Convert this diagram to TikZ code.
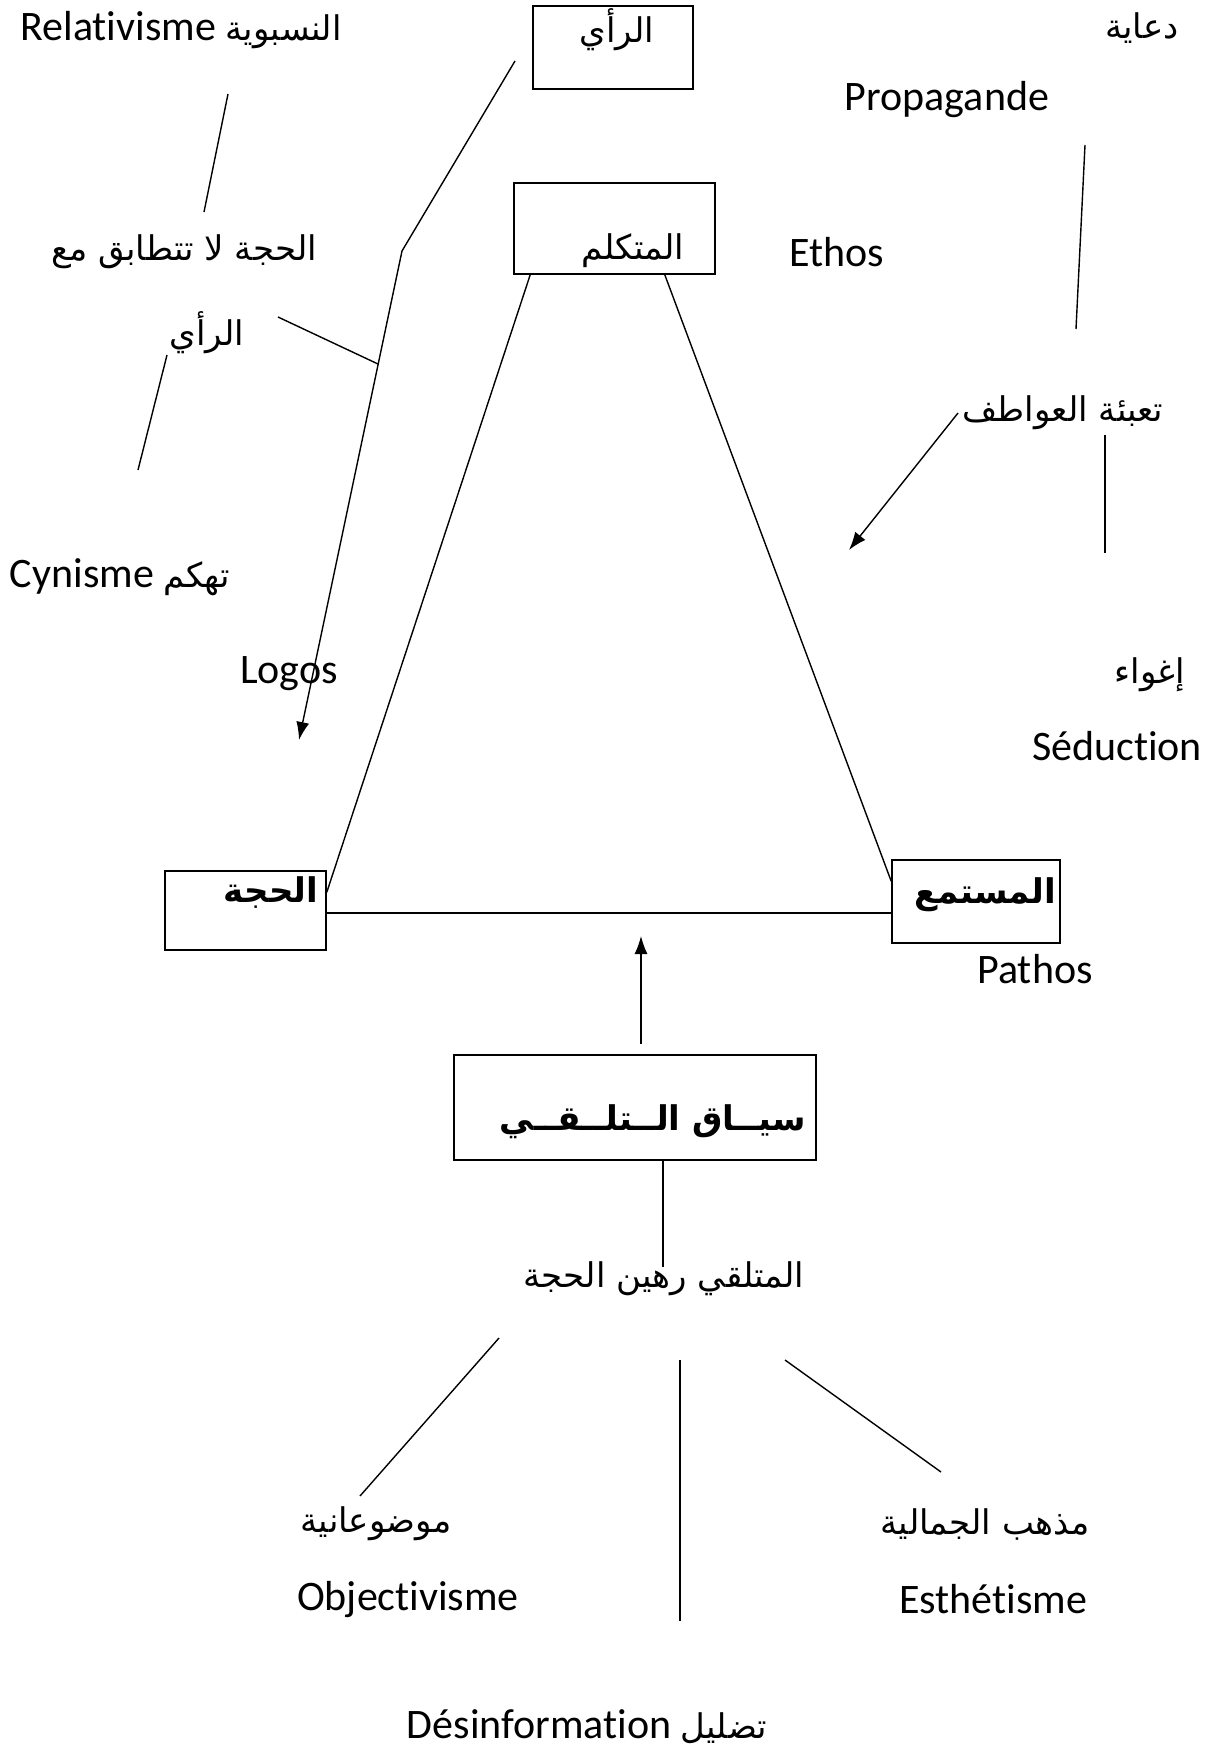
\documentclass[tikz,border=0pt]{standalone}
\usepackage{fontspec}
\setmainfont{Carlito}[Ligatures=NoCommon]
\newfontfamily\arabicfont[Script=Arabic]{DejaVu Sans}
\TeXXeTstate=1
\usetikzlibrary{calc, arrows.meta}
\newcommand{\artxt}[1]{{\arabicfont\fontsize{34}{42}\selectfont\beginR #1\endR}}

\begin{document}
\begin{tikzpicture}[x=1pt, y=-1pt]
\tikzstyle{line} = [draw, line width=1.4pt]
\tikzstyle{arrowline} = [draw, line width=1.4pt, -{Latex[length=18pt,width=13pt]}]
\tikzstyle{box} = [rectangle, draw, line width=1.6pt, inner sep=0pt]
\tikzstyle{latin} = [inner sep=0pt, font=\fontsize{42}{50}\selectfont]
\tikzstyle{arab} = [inner sep=0pt, font=\arabicfont\fontsize{34}{42}\selectfont]
\tikzstyle{arabbold} = [inner sep=0pt, font=\arabicfont\bfseries\fontsize{34}{42}\selectfont]
\useasboundingbox (0,0) rectangle (1217,1751);
% boxes
\node[box, minimum width=160pt, minimum height=83pt] (opinion) at (613,47.5) {};
\node[box, minimum width=201pt, minimum height=91pt] (speaker) at (614.5,228.5) {};
\node[box, minimum width=161pt, minimum height=79pt] (argument) at (245.5,910.5) {};
\node[box, minimum width=168pt, minimum height=83pt] (listener) at (976,901.5) {};
\node[box, minimum width=362pt, minimum height=105pt] (context) at (635,1107.5) {};
\node[arab] (opinion_t) at (617,30) {\beginR الرأي\endR};
\node[arab] (speaker_t) at (633,251) {\beginR المتكلم\endR};
\node[arabbold] (argument_t) at (271,893) {\beginR الحجة\endR};
\node[arabbold] (listener_t) at (985,895) {\beginR المستمع\endR};
\node[arabbold] (context_t) at (653,1122) {\beginR سيــاق الــتلــقــي\endR};
% labels
\node[latin] (relat) at (181,30) {Relativisme \artxt{النسبوية}};
\node[arab] (propa_ar) at (1142,28) {\beginR دعاية\endR};
\node[latin] (propa) at (947,100) {Propagande};
\node[arab] (mismatch) at (184,252) {\beginR الحجة لا تتطابق مع\endR};
\node[latin] (ethos) at (837,252) {Ethos};
\node[arab] (opinion2) at (207,333) {\beginR الرأي\endR};
\node[arab] (emotion) at (1063,413) {\beginR تعبئة العواطف\endR};
\node[latin] (cynism) at (120,577) {Cynisme \artxt{تهكم}};
\node[latin] (logos) at (289,674) {Logos};
\node[arab] (seduc_ar) at (1150,675) {\beginR إغواء\endR};
\node[latin] (seduc) at (1117,746) {Séduction};
\node[latin] (pathos) at (1035,969) {Pathos};
\node[arab] (hostage) at (664,1279) {\beginR المتلقي رهين الحجة\endR};
\node[arab] (object_ar) at (376,1524) {\beginR موضوعانية\endR};
\node[arab] (esthet_ar) at (985,1524) {\beginR مذهب الجمالية\endR};
\node[latin] (object) at (408,1599) {Objectivisme};
\node[latin] (esthet) at (993,1599) {Esthétisme};
\node[latin] (desinfo) at (587,1727) {Désinformation \artxt{تضليل}};
% free ends
\coordinate (o_start) at (515,61);
\coordinate (o_bend) at (402,251);
\coordinate (o_tip) at (299,740);
\coordinate (o_join) at (378,364);
\coordinate (op2_end) at (278,317);
\coordinate (rel_a) at (228,94);
\coordinate (rel_b) at (204,212);
\coordinate (cyn_a) at (167,355);
\coordinate (cyn_b) at (138,470);
\coordinate (pro_a) at (1085,145);
\coordinate (pro_b) at (1076,329);
\coordinate (emo_a) at (958,413);
\coordinate (emo_b) at (849,550);
\coordinate (sed_a) at (1105,435);
\coordinate (sed_b) at (1105,553);
\coordinate (up_a) at (641,1044);
\coordinate (up_b) at (641,936);
\coordinate (host_b) at (663,1267);
\coordinate (obj_a) at (499,1338);
\coordinate (obj_b) at (360,1496);
\coordinate (des_a) at (680,1360);
\coordinate (des_b) at (680,1621);
\coordinate (est_a) at (785,1360);
\coordinate (est_b) at (941,1472);
% triangle
\path [line] ($(speaker.south west)+(17,0)$) -- ($(argument.north east)+(0,22)$);
\path [line] ($(speaker.south east)+(-51,0)$) -- ($(listener.north west)+(0,22)$);
\path [line] ($(argument.east)+(0,2.5)$) -- ($(listener.west)+(0,11.5)$);
% connectors
\path [arrowline] (o_start) -- (o_bend) -- (o_tip);
\path [line] (op2_end) -- (o_join);
\path [line] (rel_a) -- (rel_b);
\path [line] (cyn_a) -- (cyn_b);
\path [line] (pro_a) -- (pro_b);
\path [arrowline] (emo_a) -- (emo_b);
\path [line] (sed_a) -- (sed_b);
\path [arrowline] (up_a) -- (up_b);
\path [line] ($(context.south)+(28,0)$) -- (host_b);
\path [line] (obj_a) -- (obj_b);
\path [line] (des_a) -- (des_b);
\path [line] (est_a) -- (est_b);
\end{tikzpicture}
\end{document}
